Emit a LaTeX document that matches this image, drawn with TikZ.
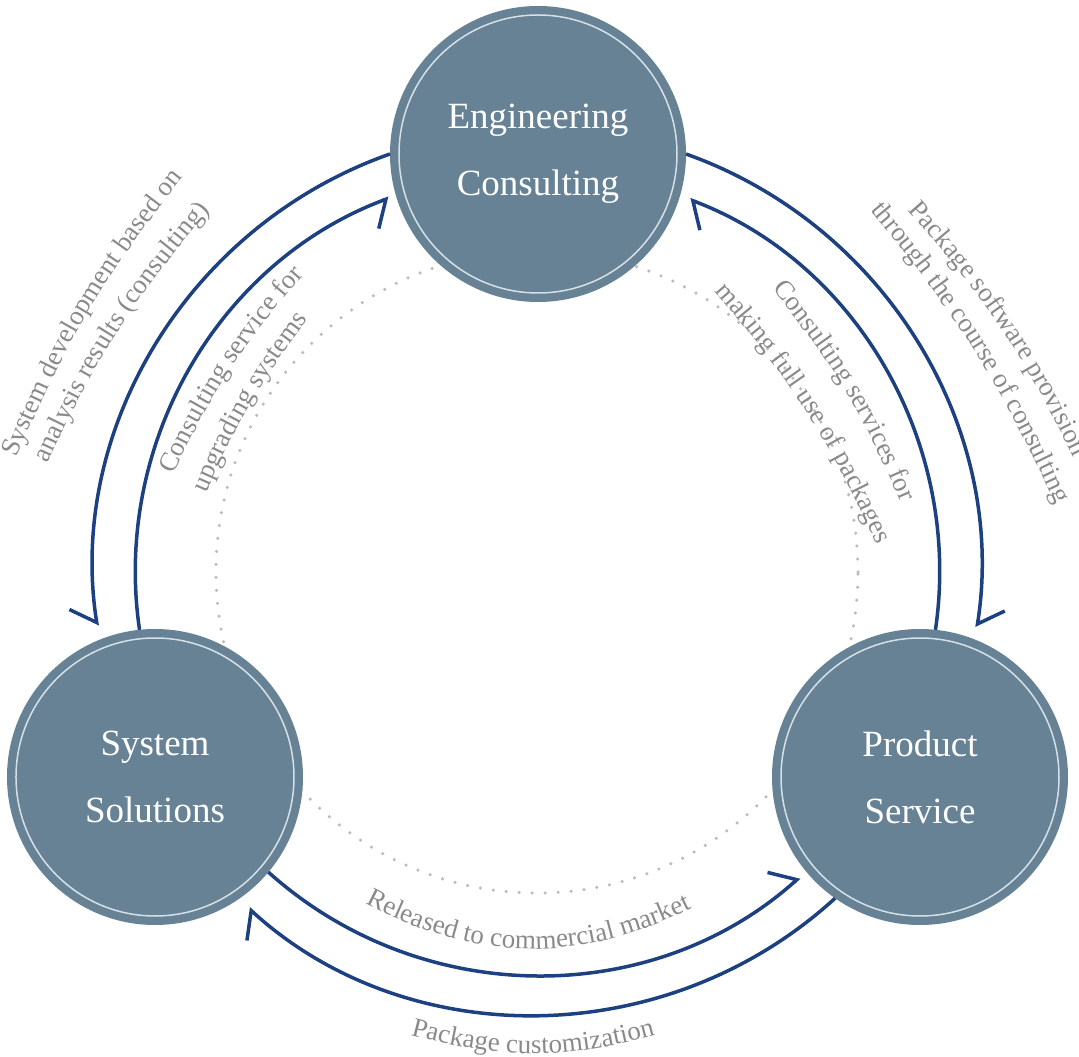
\documentclass[tikz,border=0pt]{standalone}
\usepackage{fontspec}
\setmainfont{Liberation Serif}
\usetikzlibrary{arrows.meta,decorations.text}

\definecolor{stagefill}{RGB}{102,130,148}
\definecolor{stagering}{RGB}{212,224,232}
\definecolor{flowblue}{RGB}{28,64,128}
\definecolor{labelgray}{RGB}{138,138,138}
\definecolor{dotgray}{RGB}{188,188,188}

\newcommand{\labelfont}{\fontsize{27}{32}\selectfont}

\tikzstyle{stage}=[circle, fill=stagefill, minimum size=296pt, inner sep=0pt, outer sep=0pt,
  text=white, align=center, font=\fontsize{37}{67}\selectfont,
  path picture={\draw[stagering, line width=1.5pt] (path picture bounding box.center) circle[radius=139pt];}]
\tikzstyle{flow}=[draw=flowblue, line width=3.5pt]
\tikzstyle{barbleft}=[-{Straight Barb[harpoon,length=17pt,width=50pt]}]
\tikzstyle{barbright}=[-{Straight Barb[harpoon,swap,length=17pt,width=50pt]}]
\tikzstyle{ringdots}=[draw=dotgray, line width=3.5pt, line cap=round, dash pattern=on 0pt off 13pt]
\tikzstyle{arclabel}=[decorate, decoration={text along path, text align=center, text color=labelgray}]

\begin{document}
\begin{tikzpicture}[x=1pt,y=1pt]
  \useasboundingbox (-537,-485) rectangle (542,572);
  \coordinate (hub) at (0,0);
  \draw[ringdots] (hub) circle[radius=321];

  \node[stage] (engcons) at (1,418) {Engineering\\Consulting};
  \node[stage] (syssol) at (-382,-205) {System\\Solutions};
  \node[stage] (prodserv) at (383,-205) {Product\\Service};

  % outer ring
  \draw[flow,barbright,shorten >=14pt] (engcons.180) arc[start angle=109.4,end angle=188.8,radius=443];
  \draw[flow,barbleft,shorten >=12pt] (engcons.0) arc[start angle=70.4,end angle=-8.8,radius=443];
  \draw[flow,barbleft,shorten >=15pt] (prodserv.235.4) arc[start angle=312.4,end angle=227.6,radius=443];
  % inner ring
  \draw[flow,barbright,shorten >=8pt] (syssol.96.1) arc[start angle=188.3,end angle=110.5,radius=402];
  \draw[flow,barbleft,shorten >=10pt] (prodserv.84.3) arc[start angle=-8.3,end angle=69.2,radius=402];
  \draw[flow,barbleft,shorten >=8pt] (syssol.320.3) arc[start angle=228.1,end angle=311.9,radius=402];

  % labels
  \path[arclabel,decoration={text={|\labelfont|System development based on}}] (-522,110) to[bend left=8] (-351,398);
  \path[arclabel,decoration={text={|\labelfont|analysis results (consulting)}}] (-490,107) to[bend left=8] (-326,363);
  \path[arclabel,decoration={text={|\labelfont|Consulting service for}}] (-366.5,92) to[bend left=8] (-229,302);
  \path[arclabel,decoration={text={|\labelfont|upgrading systems}}] (-332,76) to[bend left=7] (-227,255);
  \path[arclabel,decoration={text={|\labelfont|Package software provision}}] (366,367) to[bend left=8] (540,108);
  \path[arclabel,decoration={text={|\labelfont|through the course of consulting}}] (322,375) to[bend left=8] (526,52);
  \path[arclabel,decoration={text={|\labelfont|Consulting services for}}] (236,282) to[bend left=8] (363,71);
  \path[arclabel,decoration={text={|\labelfont|making full use of packages}}] (179,279) to[bend left=8] (339,29);
  \path[arclabel,decoration={text={|\labelfont|Released to commercial market}}] (-175,-330) to[bend right=27] (158,-335);
  \path[arclabel,decoration={text={|\labelfont|Package customization}}] (-127,-463) to[bend right=15] (119,-463);
\end{tikzpicture}
\end{document}
